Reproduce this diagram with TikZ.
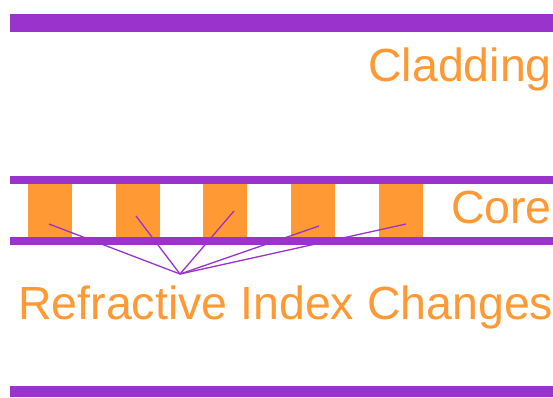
\documentclass[tikz,border=0pt]{standalone}
\usepackage{fontspec}
\setmainfont{Liberation Sans}
\definecolor{fbpurple}{HTML}{9933CC}
\definecolor{fborange}{HTML}{FF9933}

\begin{document}
\begin{tikzpicture}[x=1pt, y=-1pt,
  grating/.style={fill=fborange, draw=none, minimum width=44pt, minimum height=54pt, inner sep=0pt, anchor=north west},
  label/.style={text=fborange, inner sep=0pt, font=\fontsize{46.5}{54}\selectfont},
  pointer/.style={draw=fbpurple, line width=1.3pt}]
  \useasboundingbox (0,0) rectangle (553,397);
  % cladding walls
  \fill[fbpurple] (10,14) rectangle (553,32);
  \fill[fbpurple] (10,386) rectangle (553,397);
  % grating blocks in the core
  \node[grating] (blk1) at (27.5,183) {};
  \node[grating] (blk2) at (115.3,183) {};
  \node[grating] (blk3) at (203.1,183) {};
  \node[grating] (blk4) at (290.9,183) {};
  \node[grating] (blk5) at (378.7,183) {};
  % pointers to the index changes
  \coordinate (hub) at (180,274);
  \coordinate (tip1) at (49,224);
  \coordinate (tip2) at (136,216);
  \coordinate (tip3) at (234,211);
  \coordinate (tip4) at (319,226);
  \coordinate (tip5) at (406,224);
  \draw[pointer] (hub) -- (tip1);
  \draw[pointer] (hub) -- (tip2);
  \draw[pointer] (hub) -- (tip3);
  \draw[pointer] (hub) -- (tip4);
  \draw[pointer] (hub) -- (tip5);
  % core boundaries
  \fill[fbpurple] (10,176) rectangle (553,184);
  \fill[fbpurple] (10,237) rectangle (553,245);
  % labels
  \node[label, anchor=base east] (clad) at (552,81) {Cladding};
  \node[label, anchor=base east] (core) at (552,223) {Core};
  \node[label, anchor=base west] (ric) at (18,319) {Refractive Index Changes};
\end{tikzpicture}
\end{document}
